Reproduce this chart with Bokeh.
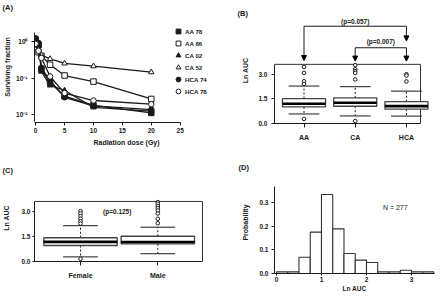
import math
from bokeh.plotting import figure
from bokeh.layouts import column, row
from bokeh.models import (Range1d, FixedTicker, Legend, LegendItem, Arrow,
                          NormalHead, PrintfTickFormatter)
from bokeh.core.properties import value
from bokeh.embed import file_html
from bokeh.resources import INLINE

FONT = "Liberation Sans"

# ---------------- Panel A: survival curves ----------------
dose_gy = [0, 0.5, 1, 2.5, 5, 10, 20]
sf_aa78 = [1.10, 0.80, 0.17, 0.075, 0.032, 0.018, 0.0113]
sf_aa86 = [0.95, 0.50, 0.40, 0.23, 0.117, 0.080, 0.027]
sf_ca02 = [1.05, 0.75, 0.15, 0.063, 0.046, 0.016, 0.0126]
sf_ca52 = [1.00, 0.62, 0.42, 0.33, 0.25, 0.21, 0.144]
sf_hca74 = [1.20, 0.90, 0.19, 0.085, 0.030, 0.0175, 0.0139]
sf_hca78 = [0.85, 0.55, 0.35, 0.11, 0.039, 0.0245, 0.0195]
line_names = ["AA 78", "AA 86", "CA 02", "CA 52", "HCA 74", "HCA 78"]
x_ticks_A = [0, 5, 10, 15, 20, 25]
y_ticks_A = [1, 0.1, 0.01]
y_tick_labels_A = ["10\u2070", "10\u207b\u00b9", "10\u207b\u00b2"]

# ---------------- Panel B: Ln AUC by ancestry ----------------
groups_B = ["AA", "CA", "HCA"]
q1_B = [1.01, 1.05, 0.88]
med_B = [1.20, 1.26, 1.06]
q3_B = [1.52, 1.56, 1.33]
lo_B = [0.58, 0.46, 0.45]
hi_B = [2.28, 2.24, 1.97]
out_AA = [3.44, 3.08, 2.57, 2.40, 0.28]
out_CA = [3.55, 3.30, 3.18, 3.08, 2.68, 0.15]
out_HCA = [3.00, 2.92, 2.56]
p_text_B = ["(p=0.057)", "(p=0.007)"]

# ---------------- Panel C: Ln AUC by sex ----------------
groups_C = ["Female", "Male"]
q1_C = [0.94, 1.04]
med_C = [1.16, 1.15]
q3_C = [1.41, 1.50]
lo_C = [0.25, 0.44]
hi_C = [2.14, 2.05]
out_F = [3.02, 2.88, 2.72, 2.56, 2.41, 2.27, 0.13]
out_M = [3.57, 3.47, 3.33, 3.20, 3.06, 2.88, 2.56, 2.29]
p_text_C = "(p=0.125)"

# ---------------- Panel D: histogram ----------------
bin_edges = [0, 0.25, 0.5, 0.75, 1.0, 1.25, 1.5, 1.75, 2.0, 2.25, 2.5, 2.75, 3.0, 3.25, 3.5]
probability = [0.007, 0.007, 0.069, 0.176, 0.336, 0.190, 0.085, 0.057, 0.047,
               0.007, 0.007, 0.014, 0.007, 0.007]
n_text = "N = 277"

INK = "#1a1a1a"


def style(p, panel_text, title_offset, tick_size="6.5px"):
    p.grid.visible = False
    p.outline_line_color = None
    p.background_fill_color = "white"
    p.border_fill_color = "white"
    p.title.text = panel_text
    p.title.align = "left"
    p.title.offset = title_offset
    p.title.standoff = 0
    p.title.text_font = FONT
    p.title.text_font_style = "bold"
    p.title.text_font_size = "7.5px"
    p.title.text_color = INK
    for ax in p.axis:
        ax.axis_line_color = INK
        ax.axis_line_width = 1
        ax.major_tick_line_color = INK
        ax.minor_tick_line_color = None
        ax.major_tick_in = 0
        ax.major_tick_out = 3
        ax.major_label_text_font = FONT
        ax.major_label_text_font_style = "bold"
        ax.major_label_text_font_size = tick_size
        ax.major_label_text_color = INK
        ax.axis_label_text_font = FONT
        ax.axis_label_text_font_style = "bold"
        ax.axis_label_text_font_size = "7px"
        ax.axis_label_text_color = INK


def boxplot(p, q1, med, q3, lo, hi, outs, box_w, cap_w):
    xs = list(range(len(q1)))
    p.segment(x0=xs, y0=q3, x1=xs, y1=hi, line_color=INK, line_width=1, line_dash="2 2")
    p.segment(x0=xs, y0=q1, x1=xs, y1=lo, line_color=INK, line_width=1, line_dash="2 2")
    p.segment(x0=[x - cap_w / 2 for x in xs], y0=hi, x1=[x + cap_w / 2 for x in xs], y1=hi,
              line_color=INK, line_width=1)
    p.segment(x0=[x - cap_w / 2 for x in xs], y0=lo, x1=[x + cap_w / 2 for x in xs], y1=lo,
              line_color=INK, line_width=1)
    p.vbar(x=xs, width=box_w, bottom=q1, top=q3, fill_color="white",
           line_color="#444444", line_width=1.3)
    p.segment(x0=[x - box_w / 2 for x in xs], y0=med, x1=[x + box_w / 2 for x in xs], y1=med,
              line_color="black", line_width=2.6)
    ox, oy = [], []
    for i, o in enumerate(outs):
        ox += [i] * len(o)
        oy += o
    p.scatter(ox, oy, marker="circle", size=3.6, fill_color="white", line_color=INK,
              line_width=1)


LEFT1, RIGHT1 = 34, 2      # column with A and C
LEFT2, RIGHT2 = 54, 6      # column with B and D

# ======== Figure A ========
pA = figure(width=220, height=150, y_axis_type="log",
            x_range=Range1d(-0.2, 31.63), y_range=Range1d(0.006194, 6.408),
            min_border_left=LEFT1, min_border_right=RIGHT1, min_border_top=11,
            min_border_bottom=28, output_backend="svg", toolbar_location=None)
style(pA, "(A)", -32)
pA.xaxis.ticker = FixedTicker(ticks=x_ticks_A)
pA.xaxis.bounds = (-0.2, 25)
pA.xaxis.major_label_standoff = 2
pA.xaxis.axis_label = "Radiation dose (Gy)"
pA.xaxis.axis_label_standoff = 3
pA.yaxis.ticker = FixedTicker(ticks=y_ticks_A)
pA.yaxis.bounds = (0.0064, 1.72)
pA.yaxis.major_label_overrides = {t: s for t, s in zip(y_ticks_A, y_tick_labels_A)}
pA.yaxis.major_label_standoff = 4
pA.yaxis.axis_label = "Surviving fraction"
pA.yaxis.axis_label_standoff = 2

series_A = [sf_aa78, sf_aa86, sf_ca02, sf_ca52, sf_hca74, sf_hca78]
markers_A = ["square", "square", "triangle", "triangle", "circle", "circle"]
filled_A = [True, False, True, False, True, False]
items = []
for name, vals, mk, fl in zip(line_names, series_A, markers_A, filled_A):
    pA.line(dose_gy, vals, line_color=INK, line_width=1.3)
    r = pA.scatter(dose_gy, vals, marker=mk, size=5.5, line_color=INK, line_width=1,
                   fill_color=INK if fl else "white")
    items.append(LegendItem(label=name, renderers=[r]))
pA.add_layout(Legend(items=items, location=(138, 25), glyph_width=12, glyph_height=12,
                     label_height=12, label_width=10, spacing=-1, padding=0, margin=0,
                     label_standoff=1, label_text_font=FONT, label_text_font_style="bold",
                     label_text_font_size="6.2px", label_text_color=INK,
                     border_line_color=None, background_fill_alpha=0))

# ======== Figure B ========
xb0, xb1, box_right_B, box_top_B = -0.576, 2.548, 2.275, 3.6
pB = figure(width=220, height=150, x_range=Range1d(xb0, xb1), y_range=Range1d(0, 6.452),
            min_border_left=LEFT2, min_border_right=RIGHT2, min_border_top=17,
            min_border_bottom=27, output_backend="svg", toolbar_location=None)
style(pB, "(B)", -37)
pB.quad(left=[xb0], right=[box_right_B], bottom=[0], top=[box_top_B], fill_color=None,
        line_color="#333333", line_width=1)
pB.yaxis.bounds = (0, box_top_B)
pB.yaxis.ticker = FixedTicker(ticks=[0, 1.5, 3.0])
pB.yaxis.formatter = PrintfTickFormatter(format="%.1f")
pB.yaxis.major_label_standoff = 4
pB.yaxis.axis_label = "Ln AUC"
pB.yaxis.axis_label_standoff = 6
pB.xaxis.bounds = (xb0, box_right_B)
pB.xaxis.ticker = FixedTicker(ticks=list(range(len(groups_B))))
pB.xaxis.major_label_overrides = {i: g for i, g in enumerate(groups_B)}
pB.xaxis.major_tick_out = 4
pB.xaxis.major_label_standoff = 6
pB.xaxis.major_label_text_font_size = "7px"
boxplot(pB, q1_B, med_B, q3_B, lo_B, hi_B, [out_AA, out_CA, out_HCA], 0.84, 0.6)

# significance brackets
head = dict(size=5, fill_color="black", line_color="black")
lvl1, lvl2 = 5.92, 4.61
tip1, tip2 = 3.83, 3.80
pB.segment(x0=[0, 1], y0=[lvl1, lvl2], x1=[2, 2], y1=[lvl1, lvl2], line_color=INK, line_width=1)
for xs_, y0_, y1_ in [(0, lvl1, tip1), (2, lvl1, lvl2 + 0.42), (1, lvl2, tip2), (2, lvl2, tip2)]:
    pB.add_layout(Arrow(end=NormalHead(**head), x_start=xs_, y_start=y0_, x_end=xs_,
                        y_end=y1_, line_color=INK, line_width=1))
pB.text(x=[1.0, 1.5], y=[6.20, 4.97], text=p_text_B, text_font=value(FONT),
        text_font_style="bold", text_font_size="6.5px", text_color=INK,
        text_align="center", text_baseline="middle")

# ======== Figure C ========
xc0, xc1, box_right_C = -0.595, 1.785, 1.578
yc0, yc_top = -0.03, 3.61
pC = figure(width=220, height=146, x_range=Range1d(xc0, xc1), y_range=Range1d(yc0, 5.243),
            min_border_left=LEFT1, min_border_right=RIGHT1, min_border_top=24,
            min_border_bottom=35, output_backend="svg", toolbar_location=None)
style(pC, "(C)", -32)
pC.quad(left=[xc0], right=[box_right_C], bottom=[yc0], top=[yc_top], fill_color=None,
        line_color="#333333", line_width=1)
pC.yaxis.bounds = (yc0, yc_top)
pC.yaxis.ticker = FixedTicker(ticks=[0, 1.5, 3.0])
pC.yaxis.formatter = PrintfTickFormatter(format="%.1f")
pC.yaxis.major_tick_out = 2
pC.yaxis.major_label_standoff = 2
pC.yaxis.axis_label = "Ln AUC"
pC.yaxis.axis_label_standoff = 8
pC.xaxis.bounds = (xc0, box_right_C)
pC.xaxis.ticker = FixedTicker(ticks=list(range(len(groups_C))))
pC.xaxis.major_label_overrides = {i: g for i, g in enumerate(groups_C)}
pC.xaxis.major_tick_out = 4
pC.xaxis.major_label_standoff = 6
pC.xaxis.major_label_text_font_size = "7px"
boxplot(pC, q1_C, med_C, q3_C, lo_C, hi_C, [out_F, out_M], 0.95, 0.45)
pC.text(x=[0.475], y=[3.0], text=[p_text_C], text_font=value(FONT), text_font_style="bold",
        text_font_size="6.5px", text_color=INK, text_align="center", text_baseline="middle")

# ======== Figure D ========
pD = figure(width=220, height=146, x_range=Range1d(-0.044, 3.511), y_range=Range1d(0, 0.434),
            min_border_left=LEFT2, min_border_right=RIGHT2, min_border_top=21,
            min_border_bottom=23, output_backend="svg", toolbar_location=None)
style(pD, "(D)", -36)
pD.quad(left=bin_edges[:-1], right=bin_edges[1:], bottom=0, top=probability,
        fill_color="white", line_color="#333333", line_width=1.1)
pD.yaxis.bounds = (0, 0.370)
pD.yaxis.ticker = FixedTicker(ticks=[0, 0.1, 0.2, 0.3])
pD.yaxis.formatter = PrintfTickFormatter(format="%.1f")
pD.yaxis.major_label_standoff = 3
pD.yaxis.axis_label = "Probability"
pD.yaxis.axis_label_standoff = 7
pD.xaxis.ticker = FixedTicker(ticks=[0, 1, 2, 3])
pD.xaxis.major_tick_out = 2
pD.xaxis.major_label_standoff = 1
pD.xaxis.axis_label = "Ln AUC"
pD.xaxis.axis_label_standoff = 0
pD.xaxis.axis_label_text_font_size = "6.5px"
pD.text(x=[2.64], y=[0.281], text=[n_text], text_font=value(FONT), text_font_size="7px",
        text_color=INK, text_align="center", text_baseline="middle")

layout = row(column(pA, pC), column(pB, pD))
open("out.html", "w").write(file_html(layout, INLINE))
